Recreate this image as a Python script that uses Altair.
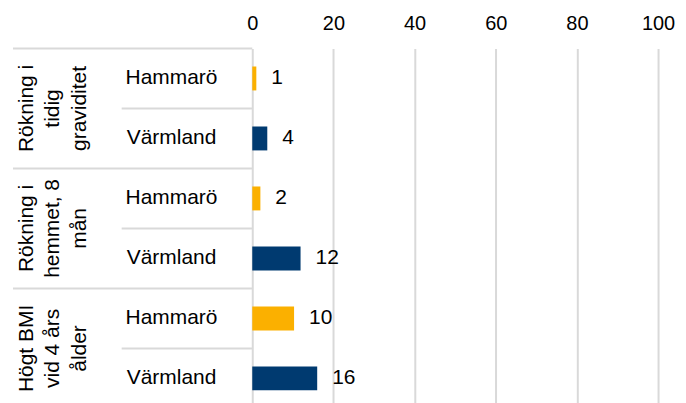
import altair as alt
import pandas as pd

group_labels = ["Rökning i\ntidig\ngraviditet", "Rökning i\nhemmet, 8\nmån", "Högt BMI\nvid 4 års\nålder"]
regions = ["Hammarö", "Värmland"]
hammaro_values = [1.0, 2.0, 10.3]
varmland_values = [3.7, 11.9, 16.0]
x_ticks = [0, 20, 40, 60, 80, 100]
region_colors = ["#FBB000", "#003A70"]

records = []
for gi, g in enumerate(group_labels):
    for region, vals in zip(regions, [hammaro_values, varmland_values]):
        records.append({"row": f"{gi}|{region}", "group": g, "gi": gi,
                        "region": region, "value": vals[gi]})
df = pd.DataFrame(records)
row_order = list(df["row"])

FONT = "Liberation Sans"
GRID = "#d9d9d9"
TXT = "#000000"


def yrow(band=None):
    kw = dict(sort=row_order, axis=None,
              scale=alt.Scale(paddingInner=0, paddingOuter=0))
    if band is not None:
        kw["bandPosition"] = band
    return alt.Y("row:N", **kw)


base = alt.Chart(df)

bars = base.mark_bar(size=24).encode(
    x=alt.X("value:Q", scale=alt.Scale(domain=[0, 100]),
            axis=alt.Axis(orient="top", values=x_ticks, title=None, grid=True,
                          gridColor=GRID, gridWidth=2, domain=False, ticks=False,
                          labelFontSize=20, labelFont=FONT, labelColor=TXT,
                          labelPadding=15, labelFlush=False)),
    y=yrow(),
    color=alt.Color("region:N", scale=alt.Scale(domain=regions, range=region_colors),
                    legend=None),
)

value_labels = base.mark_text(align="left", baseline="middle", dx=15, fontSize=21,
                              font=FONT, color=TXT).encode(
    x="value:Q", y=yrow(), text=alt.Text("value:Q", format=".0f"))

row_labels = base.mark_text(align="center", baseline="middle", fontSize=21,
                            font=FONT, color=TXT).encode(
    x=alt.value(-81), y=yrow(), text="region:N")

group_text = base.transform_filter(alt.datum.region == "Värmland").mark_text(
    angle=270, lineBreak="\n", lineHeight=26.5, fontSize=21, font=FONT, color=TXT,
    align="center", baseline="middle").encode(
    x=alt.value(-226), y=yrow(0), text="group:N")

inner_sep = base.transform_filter(alt.datum.region == "Värmland").mark_rule(
    color=GRID, strokeWidth=2).encode(y=yrow(0), x=alt.value(-131), x2=alt.value(0))

group_sep = base.transform_filter(alt.datum.region == "Hammarö").mark_rule(
    color=GRID, strokeWidth=2).encode(y=yrow(0), x=alt.value(-240), x2=alt.value(0))

bottom_sep = base.transform_filter(
    (alt.datum.region == "Värmland") & (alt.datum.gi == 2)).mark_rule(
    color=GRID, strokeWidth=2).encode(y=yrow(1), x=alt.value(-240), x2=alt.value(0))

chart = alt.layer(group_sep, inner_sep, bottom_sep, bars, value_labels,
                  row_labels, group_text).properties(
    width=407, height=361,
    autosize=alt.AutoSizeParams(type="none"),
    padding={"left": 245, "top": 40, "right": 20, "bottom": 0},
).configure_view(stroke=None)

chart.save("out.html", embed_options={"renderer": "svg", "actions": False})
